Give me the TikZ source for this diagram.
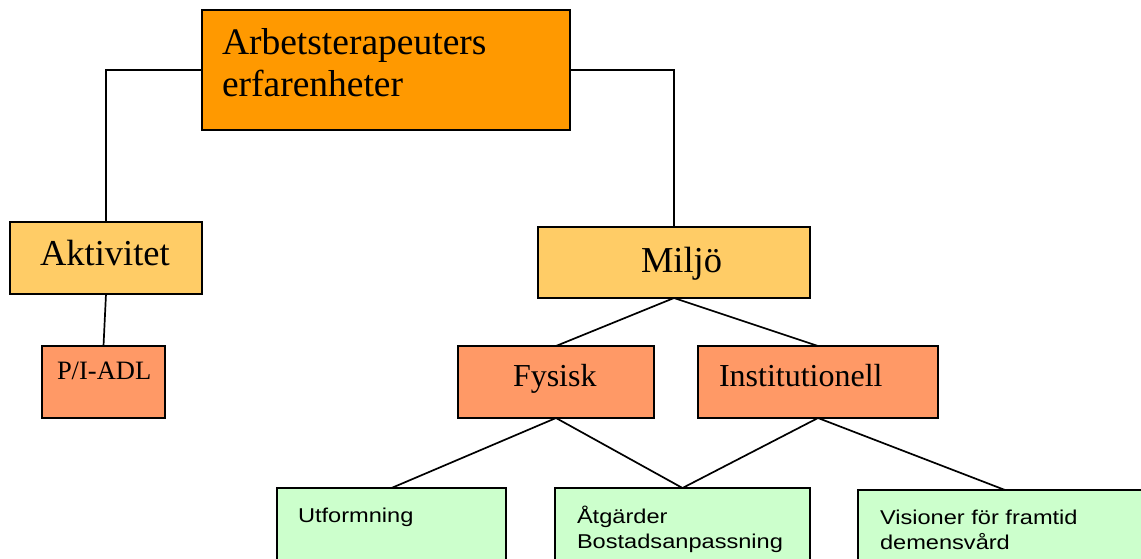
\documentclass[tikz,border=0pt]{standalone}
\usepackage{fontspec}
\usepackage{graphicx}
\setmainfont{Liberation Serif}
\newfontfamily\arialf{Liberation Sans}
\definecolor{topc}{HTML}{FF9900}
\definecolor{midc}{HTML}{FFCC66}
\definecolor{subc}{HTML}{FF9966}
\definecolor{grnc}{HTML}{CCFFCC}
\newcommand{\wideT}[1]{\scalebox{1.18}[1]{#1}}
\begin{document}
\begin{tikzpicture}[x=1pt,y=-1pt,
  box/.style={draw=black, line width=1.8pt, inner sep=0pt, outer sep=0pt, anchor=north west},
  lbl/.style={inner sep=0pt, outer sep=0pt, anchor=base west, align=left},
  conn/.style={draw=black, line width=1.7pt}]
\clip (0,0) rectangle (1141,559);
\fill[white] (0,0) rectangle (1141,559);
% boxes
\node[box, fill=topc, minimum width=368pt, minimum height=120pt] (top) at (202,10) {};
\node[box, fill=midc, minimum width=192pt, minimum height=72pt] (akt) at (10,222) {};
\node[box, fill=midc, minimum width=272pt, minimum height=71pt] (mil) at (538,227) {};
\node[box, fill=subc, minimum width=123pt, minimum height=72pt] (padl) at (42,346) {};
\node[box, fill=subc, minimum width=196pt, minimum height=72pt] (fys) at (458,346) {};
\node[box, fill=subc, minimum width=240pt, minimum height=72pt] (inst) at (698,346) {};
\node[box, fill=grnc, minimum width=229pt, minimum height=120pt] (utf) at (277,488) {};
\node[box, fill=grnc, minimum width=255pt, minimum height=120pt] (atg) at (555,488) {};
\node[box, fill=grnc, minimum width=294pt, minimum height=120pt] (vis) at (858,490) {};
% connectors
\draw[conn] (top.west) -| (akt.north);
\draw[conn] (top.east) -| (mil.north);
\draw[conn] (akt.south) -- (padl.north);
\draw[conn] (mil.south) -- (fys.north);
\draw[conn] (mil.south) -- (inst.north);
\draw[conn] (fys.south) -- (utf.north);
\draw[conn] (fys.south) -- (atg.north);
\draw[conn] (inst.south) -- (atg.north);
\draw[conn] (inst.south) -- (vis.north);
% labels (base anchor = last line's baseline)
\node[lbl, font=\fontsize{37.5}{42}\selectfont] (ttop) at (222,97) {Arbetsterapeuters\\erfarenheter};
\node[lbl, font=\fontsize{36.5}{42}\selectfont] (takt) at (40,265) {Aktivitet};
\node[lbl, font=\fontsize{36.5}{42}\selectfont] (tmil) at (641,272) {Miljö};
\node[lbl, font=\fontsize{26.5}{30}\selectfont] (tpadl) at (57,379) {P/I-ADL};
\node[lbl, font=\fontsize{32}{36}\selectfont] (tfys) at (513,386) {Fysisk};
\node[lbl, font=\fontsize{32}{36}\selectfont] (tinst) at (719,386) {Institutionell};
\node[lbl, font=\arialf\fontsize{20}{25}\selectfont] (tutf) at (298,522) {\wideT{Utformning}};
\node[lbl, font=\arialf\fontsize{20}{25}\selectfont] (tatg) at (577,548) {\wideT{Åtgärder}\\\wideT{Bostadsanpassning}};
\node[lbl, font=\arialf\fontsize{20}{25}\selectfont] (tvis) at (880,549) {\wideT{Visioner för framtid}\\\wideT{demensvård}};
\end{tikzpicture}
\end{document}
